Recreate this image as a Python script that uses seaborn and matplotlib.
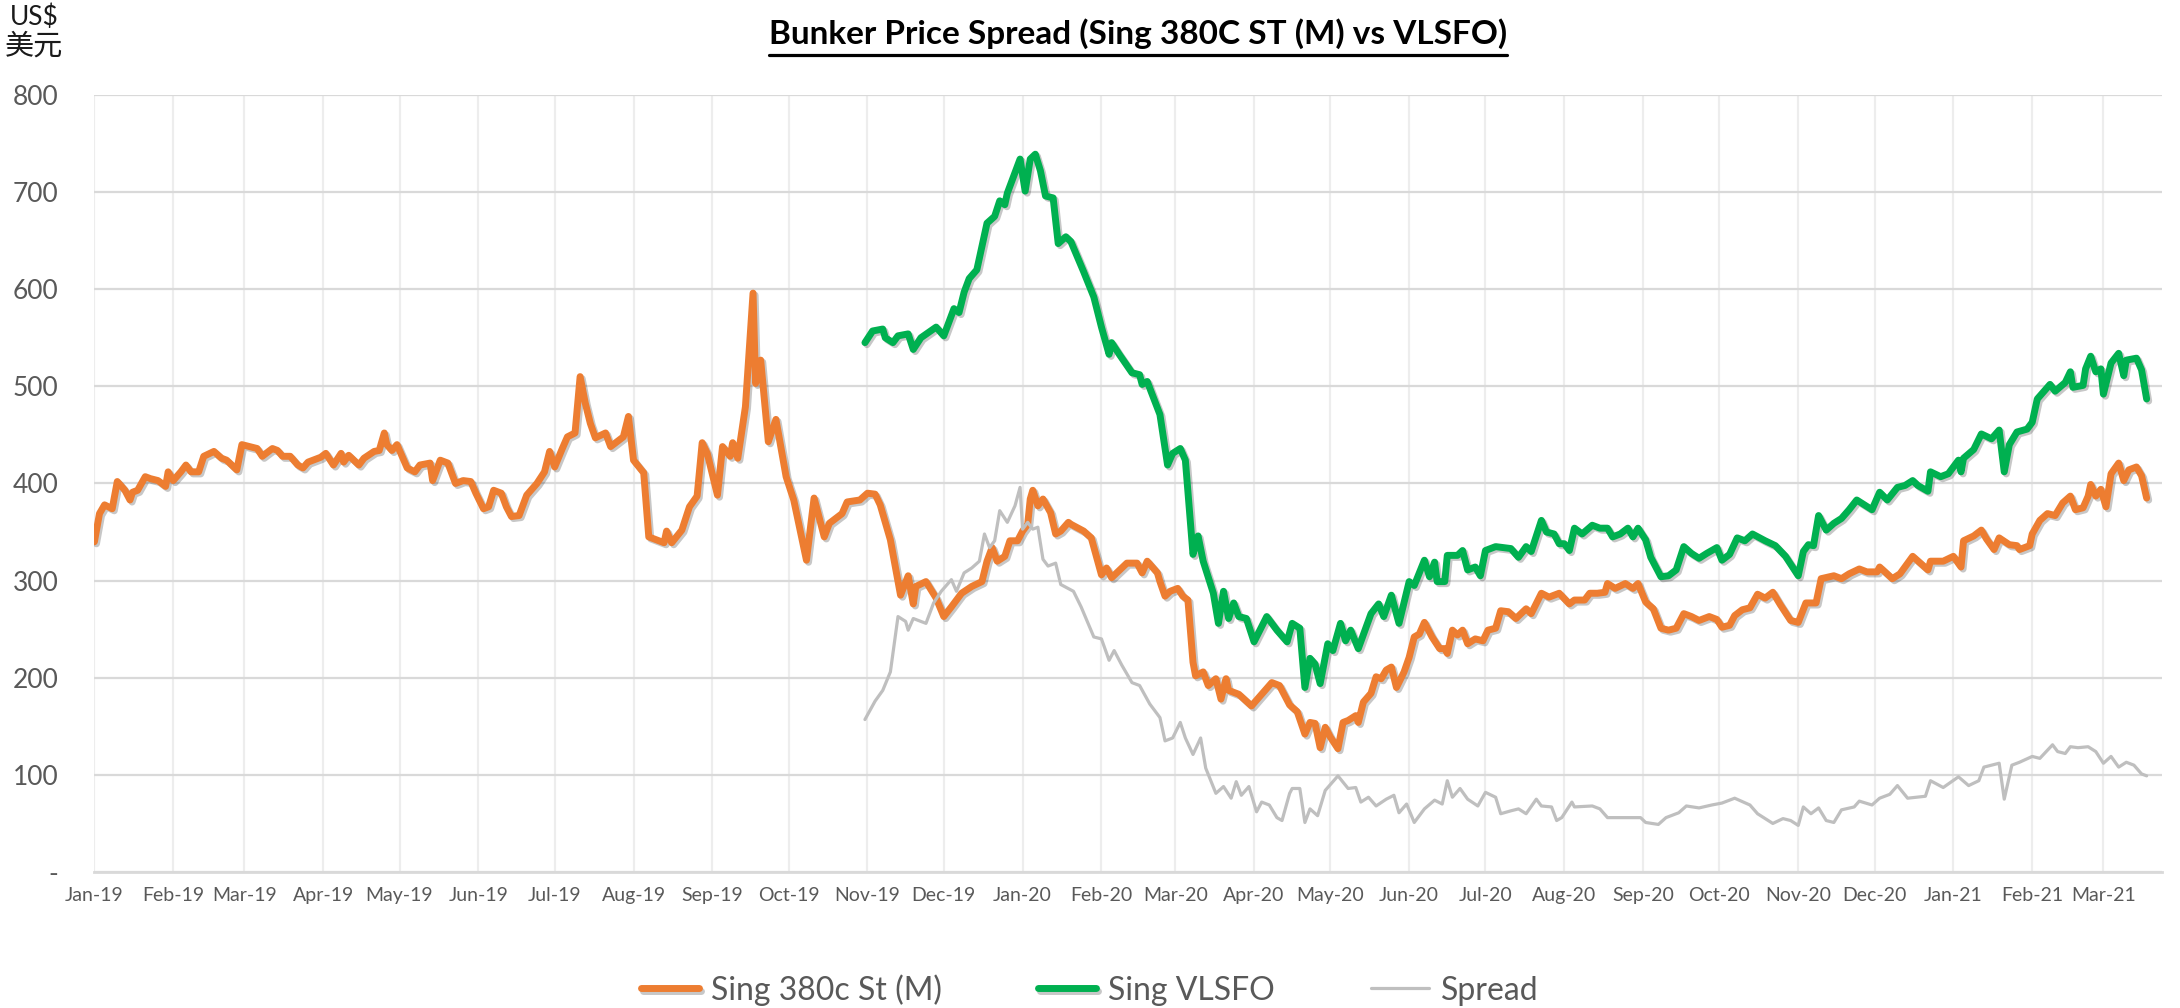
import numpy as np
import pandas as pd
import matplotlib
matplotlib.use("Agg")
import matplotlib.pyplot as plt
import matplotlib.dates as mdates
import matplotlib.patheffects as pe
from matplotlib.lines import Line2D
from matplotlib.ticker import FuncFormatter
import seaborn as sns

# day numbers are days counted from 1 Jan 2019
hsfo_day = [0, 2, 4, 7, 9, 12, 14, 15, 17, 20, 22, 25, 28, 29, 31, 34, 36, 38, 41, 43, 47, 50, 52, 56, 58,
            64, 66, 70, 72, 74, 77, 80, 82, 84, 89, 91, 94, 97, 98, 100, 104, 106, 110, 112, 114, 115, 117,
            119, 121, 123, 126, 128, 132, 133, 136, 139, 142, 145, 148, 150, 153, 155, 157, 160, 162, 164,
            167, 170, 174, 177, 179, 181, 184, 186, 189, 191, 193, 195, 197, 201, 203, 208, 210, 212, 216,
            218, 224, 225, 227, 231, 234, 237, 239, 241, 245, 247, 250, 251, 253, 256, 259, 260, 262, 265,
            268, 272, 275, 280, 283, 287, 289, 294, 296, 301, 304, 307, 309, 313, 317, 320, 322, 323, 327,
            331, 334, 337, 341, 345, 349, 351, 353, 355, 358, 360, 363, 365, 367, 368, 369, 371, 373, 376,
            378, 380, 383, 384, 389, 392, 396, 398, 400, 406, 410, 412, 414, 418, 419, 421, 423, 426, 428,
            430, 432, 433, 436, 438, 441, 443, 445, 446, 450, 455, 458, 463, 466, 470, 473, 476, 478, 480,
            482, 484, 486, 489, 491, 493, 496, 497, 499, 502, 504, 506, 508, 510, 512, 515, 517, 519, 521,
            523, 526, 529, 531, 532, 534, 536, 538, 540, 543, 546, 548, 551, 553, 556, 559, 563, 565, 569,
            572, 576, 580, 582, 586, 588, 591, 594, 595, 598, 602, 605, 607, 610, 613, 616, 619, 622, 625,
            628, 631, 635, 638, 640, 643, 645, 648, 651, 654, 657, 660, 663, 667, 670, 673, 677, 679, 684,
            687, 690, 694, 697, 701, 702, 707, 710, 715, 718, 721, 722, 727, 731, 734, 735, 739, 742, 744,
            747, 749, 753, 756, 757, 761, 762, 765, 768, 771, 774, 777, 779, 782, 784, 785, 787, 789, 791,
            793, 796, 798, 800, 803, 805, 807]
hsfo_price = [340, 369, 378, 374, 402, 393, 383, 391, 393, 407, 405, 403, 397, 412, 403, 412, 419, 412, 412,
              428, 433, 426, 424, 414, 440, 436, 428, 436, 434, 428, 428, 419, 416, 422, 427, 431, 419, 431,
              422, 429, 419, 426, 433, 434, 452, 440, 434, 440, 428, 416, 412, 419, 421, 403, 424, 421, 400,
              403, 402, 390, 374, 376, 393, 390, 376, 366, 367, 388, 400, 412, 433, 417, 436, 448, 452, 510,
              483, 462, 447, 452, 438, 448, 469, 424, 411, 345, 339, 351, 339, 352, 376, 387, 442, 431, 388,
              438, 428, 442, 426, 479, 596, 503, 527, 443, 466, 407, 383, 321, 385, 345, 359, 369, 381, 383,
              390, 389, 378, 342, 285, 305, 276, 294, 299, 282, 263, 273, 287, 294, 299, 320, 334, 320, 325,
              341, 341, 351, 358, 384, 393, 377, 384, 370, 348, 351, 360, 358, 351, 344, 306, 313, 303, 318,
              318, 308, 320, 308, 299, 284, 289, 292, 284, 280, 216, 202, 206, 192, 199, 178, 199, 187, 183,
              171, 180, 195, 192, 172, 165, 142, 154, 153, 128, 149, 139, 127, 154, 156, 161, 154, 175, 184,
              201, 199, 208, 211, 190, 206, 221, 242, 245, 257, 242, 230, 230, 225, 249, 244, 249, 235, 240,
              238, 249, 251, 269, 268, 261, 271, 266, 287, 283, 287, 276, 280, 280, 287, 287, 288, 297, 292,
              297, 292, 297, 278, 271, 251, 249, 251, 266, 263, 259, 263, 260, 252, 254, 264, 270, 272, 286,
              282, 288, 275, 259, 257, 277, 277, 302, 305, 302, 307, 312, 309, 309, 314, 302, 307, 325, 318,
              311, 320, 320, 325, 314, 341, 346, 352, 343, 332, 344, 337, 336, 332, 336, 348, 362, 369, 367,
              380, 387, 373, 375, 387, 399, 387, 394, 376, 410, 421, 403, 414, 417, 408, 385]

vlsfo_day = [303, 306, 310, 311, 314, 316, 320, 322, 325, 331, 334, 338, 340, 342, 344, 347, 351, 354, 356,
             358, 359, 364, 366, 368, 370, 372, 374, 377, 379, 382, 384, 389, 393, 396, 399, 400, 403, 408,
             411, 412, 414, 419, 422, 424, 427, 429, 432, 434, 436, 440, 442, 444, 446, 448, 450, 453, 456,
             461, 465, 469, 471, 474, 476, 478, 480, 482, 485, 487, 490, 492, 494, 497, 502, 505, 507, 510,
             513, 517, 519, 523, 525, 527, 528, 531, 532, 536, 538, 540, 543, 545, 547, 551, 557, 560, 563,
             565, 569, 571, 574, 576, 578, 580, 582, 585, 589, 592, 595, 597, 600, 603, 605, 607, 610, 612,
             616, 619, 622, 625, 628, 631, 634, 638, 640, 643, 646, 649, 652, 657, 661, 665, 670, 672, 674,
             676, 678, 681, 684, 687, 690, 693, 696, 699, 702, 705, 709, 712, 715, 717, 721, 722, 726, 729,
             733, 734, 735, 739, 742, 746, 749, 751, 753, 756, 760, 762, 764, 769, 771, 775, 777, 778, 782,
             783, 785, 787, 789, 790, 793, 796, 798, 799, 803, 805, 807]
vlsfo_price = [545, 557, 559, 550, 545, 552, 554, 538, 550, 561, 552, 580, 576, 597, 611, 620, 668, 675, 691,
               687, 699, 734, 701, 734, 739, 722, 696, 694, 647, 654, 649, 618, 592, 561, 533, 545, 533, 514,
               512, 502, 505, 471, 419, 431, 436, 424, 327, 346, 320, 287, 256, 289, 261, 277, 263, 261, 237,
               263, 249, 237, 256, 251, 190, 220, 214, 194, 235, 228, 256, 238, 249, 230, 266, 276, 263, 285,
               256, 299, 295, 321, 304, 319, 299, 299, 326, 326, 331, 311, 314, 305, 331, 335, 333, 324, 335,
               330, 362, 350, 348, 338, 338, 331, 354, 348, 357, 354, 354, 345, 348, 354, 345, 354, 342, 324,
               304, 305, 311, 335, 328, 323, 328, 334, 321, 327, 344, 341, 348, 341, 336, 325, 305, 330, 337,
               336, 367, 352, 359, 364, 373, 383, 378, 373, 391, 383, 396, 398, 403, 398, 392, 412, 407, 410,
               424, 412, 426, 435, 451, 446, 455, 412, 440, 453, 456, 463, 487, 502, 495, 504, 515, 499, 501,
               518, 531, 515, 518, 492, 524, 534, 511, 527, 529, 517, 487]

spread_day = [303, 307, 310, 313, 315, 316, 319, 320, 322, 327, 330, 333, 337, 339, 342, 345, 348, 350, 352,
              354, 356, 359, 362, 364, 365, 367, 369, 371, 373, 375, 378, 380, 385, 388, 393, 396, 399, 401,
              404, 408, 411, 415, 419, 421, 424, 427, 429, 432, 435, 437, 441, 444, 447, 449, 451, 454, 457,
              459, 462, 465, 467, 470, 471, 474, 476, 478, 481, 484, 489, 493, 496, 498, 501, 504, 508, 511,
              513, 516, 519, 523, 527, 530, 532, 534, 537, 540, 544, 547, 551, 553, 557, 560, 563, 567, 569,
              573, 575, 577, 581, 582, 589, 592, 595, 601, 603, 608, 610, 615, 618, 623, 626, 631, 636, 640,
              645, 651, 654, 657, 660, 664, 667, 670, 672, 675, 678, 681, 684, 687, 692, 694, 699, 702, 706,
              709, 713, 720, 722, 727, 733, 737, 741, 743, 749, 751, 754, 757, 762, 765, 770, 772, 775, 777,
              780, 784, 787, 790, 793, 796, 799, 802, 805, 807]
spread_price = [157, 176, 187, 206, 244, 263, 258, 249, 261, 256, 277, 289, 301, 289, 308, 313, 320, 348, 334,
                341, 372, 360, 377, 396, 353, 360, 353, 355, 322, 315, 318, 296, 289, 273, 242, 240, 218, 228,
                213, 195, 192, 173, 159, 135, 138, 154, 138, 121, 138, 107, 81, 88, 76, 93, 79, 88, 62,
                72, 69, 56, 53, 81, 86, 86, 51, 65, 58, 84, 99, 86, 87, 72, 77, 68, 75, 79,
                61, 70, 51, 65, 74, 70, 94, 77, 86, 75, 68, 82, 77, 60, 63, 65, 60, 75, 68,
                67, 53, 56, 72, 67, 68, 65, 56, 56, 56, 56, 51, 49, 56, 61, 68, 66, 69, 71,
                76, 69, 60, 55, 50, 55, 53, 48, 67, 60, 66, 53, 51, 64, 67, 73, 69, 76, 80,
                89, 76, 78, 94, 87, 98, 89, 94, 108, 112, 75, 110, 113, 119, 117, 131, 124, 122, 129,
                128, 129, 124, 112, 119, 108, 113, 110, 101, 99]

series_names = ["Sing 380c St (M)", "Sing VLSFO", "Spread"]
y_ticks = [0, 100, 200, 300, 400, 500, 600, 700, 800]

start = pd.Timestamp("2019-01-01")


def to_dates(days):
    return start + pd.to_timedelta(np.array(days), unit="D")


sns.set_theme(style="white")
plt.rcParams["font.family"] = ["Lato", "Noto Sans CJK SC", "DejaVu Sans"]

fig = plt.figure(figsize=(21.8, 10.08), dpi=100)
ax = fig.add_axes([0.0433, 0.1349, 0.9484, 0.7709])

shadow = [pe.SimpleLineShadow(offset=(1.5, -1.5), shadow_color="black", alpha=0.22), pe.Normal()]

sns.lineplot(x=to_dates(hsfo_day), y=hsfo_price, ax=ax, color="#ED7D31", linewidth=5.0,
             label=series_names[0], sort=False, estimator=None)
ax.lines[-1].set_path_effects(shadow)
sns.lineplot(x=to_dates(vlsfo_day), y=vlsfo_price, ax=ax, color="#00B050", linewidth=5.0,
             label=series_names[1], sort=False, estimator=None)
ax.lines[-1].set_path_effects(shadow)
sns.lineplot(x=to_dates(spread_day), y=spread_price, ax=ax, color="#BFBFBF", linewidth=2.3,
             label=series_names[2], sort=False, estimator=None)

ax.set_xlim(start, pd.Timestamp("2021-03-24"))
ax.set_ylim(0, 800)
ax.set_yticks(y_ticks)
ax.yaxis.set_major_formatter(FuncFormatter(lambda v, p: "-" if v == 0 else f"{v:.0f}"))
ax.xaxis.set_major_locator(mdates.MonthLocator())
ax.xaxis.set_major_formatter(mdates.DateFormatter("%b-%y"))
ax.set_xlabel("")
ax.set_ylabel("")

ax.grid(axis="y", color="#D9D9D9", linewidth=1.6)
ax.grid(axis="x", color="#EDEDED", linewidth=1.6)
ax.set_axisbelow(True)
for side in ["top", "right", "left"]:
    ax.spines[side].set_visible(False)
ax.spines["bottom"].set_color("#D9D9D9")
ax.spines["bottom"].set_linewidth(2)

ax.tick_params(axis="y", length=0, pad=26, labelsize=19, labelcolor="#595959")
ax.tick_params(axis="x", length=0, pad=11, labelsize=14, labelcolor="#595959")

handles, labels = ax.get_legend_handles_labels()
ax.get_legend().remove()
leg = fig.legend(handles, labels, loc="center", bbox_to_anchor=(0.5, 0.018), ncol=3, frameon=False,
                 fontsize=23, handlelength=1.8, handletextpad=0.4, columnspacing=3.0)
for t in leg.get_texts():
    t.set_color("#595959")

fig.text(0.0156, 0.983, "US$", ha="center", va="center", fontsize=19, color="#1a1a1a")
fig.text(0.0156, 0.954, "美元", ha="center", va="center", fontsize=21, color="#1a1a1a",
         family=["Noto Sans CJK SC", "DejaVu Sans"])

title = fig.text(0.522, 0.9563, "Bunker Price Spread (Sing 380C ST (M) vs VLSFO)", ha="center",
                 va="baseline", fontsize=24, fontweight="bold", color="black")
fig.canvas.draw()
bb = title.get_window_extent(fig.canvas.get_renderer()).transformed(fig.transFigure.inverted())
fig.add_artist(Line2D([bb.x0, bb.x1], [0.9455, 0.9455], transform=fig.transFigure, color="black", linewidth=2.3))

fig.savefig("out.png", dpi=100)
